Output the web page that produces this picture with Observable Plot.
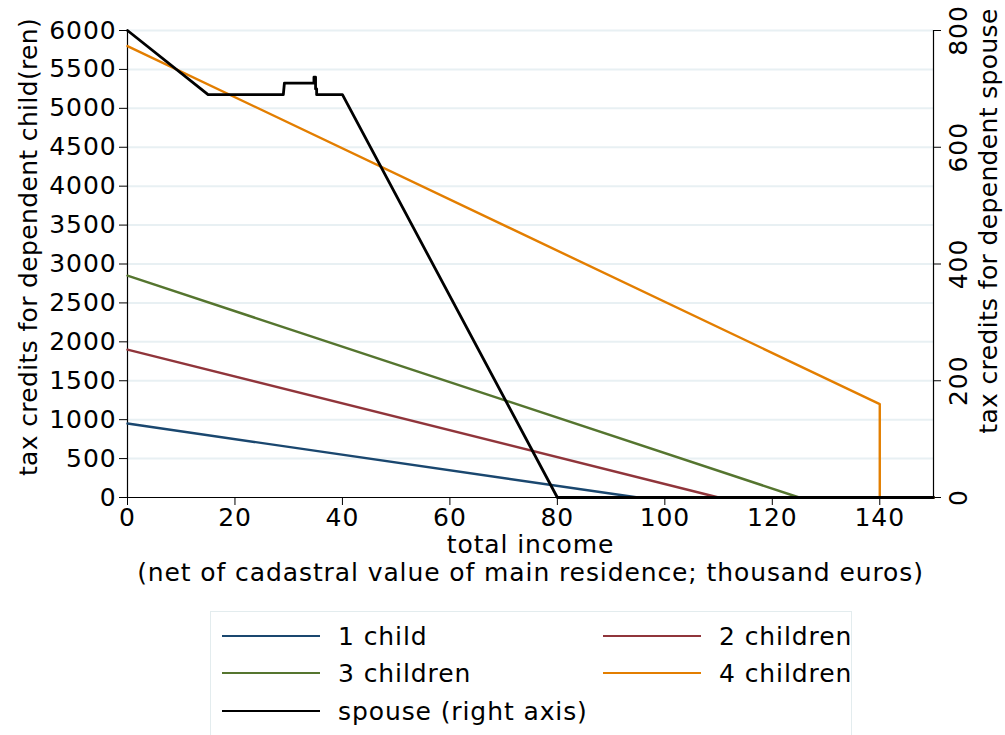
<!DOCTYPE html>
<html>
<head>
<meta charset="utf-8">
<script src="https://cdn.jsdelivr.net/npm/d3@7"></script>
<script src="https://cdn.jsdelivr.net/npm/@observablehq/plot@0.6"></script>
<style>
  body { margin: 0; background: #fff; font-family: "DejaVu Sans", sans-serif; }
  #wrap { position: relative; width: 1005px; height: 735px; overflow: hidden; }
  #wrap svg text { letter-spacing: 0.9px; }
  #wrap svg g.vlabel text { letter-spacing: 0.35px; }
  #legend { position: absolute; left: 210px; top: 611px; width: 642px; height: 140px;
    border: 1px solid #e3ecee; box-sizing: border-box; font-size: 25px; letter-spacing: 0.9px; color: #000; }
  .item { position: absolute; display: flex; align-items: center; height: 30px; white-space: nowrap; }
  .swatch { width: 98px; height: 0; border-top: 2px solid; margin-right: 18px; }
</style>
</head>
<body>
<div id="wrap"></div>
<script>
// ---- data (income in thousand euros, credits in euros) ----
const income1 = [0, 95, 150];
const credit1 = [950, 0, 0];
const income2 = [0, 110, 150];
const credit2 = [1900, 0, 0];
const income3 = [0, 125, 150];
const credit3 = [2850, 0, 0];
const income4 = [0, 140, 140, 150];
const credit4 = [5800, 1200, 0, 0];
const spouseIncome = [0, 15, 29, 29.2, 34.7, 34.7, 35, 35, 35.2, 35.2, 40, 80, 150];
const spouseCredit = [800, 690, 690, 710, 710, 720, 720, 700, 700, 690, 690, 0, 0];

const xTicks = [0, 20, 40, 60, 80, 100, 120, 140];
const yTicks = [0, 500, 1000, 1500, 2000, 2500, 3000, 3500, 4000, 4500, 5000, 5500, 6000];
const rightTicks = [0, 200, 400, 600, 800];

const seriesNames = ["1 child", "2 children", "3 children", "4 children", "spouse (right axis)"];
const seriesColors = ["#1a476f", "#90353b", "#55752f", "#e37e00", "#000000"];

const ratio = 6000 / 800; // right axis mapped onto left scale

const toPts = (xs, ys, k = 1) => xs.map((x, i) => ({x, y: ys[i] * k}));
const s1 = toPts(income1, credit1);
const s2 = toPts(income2, credit2);
const s3 = toPts(income3, credit3);
const s4 = toPts(income4, credit4);
const sp = toPts(spouseIncome, spouseCredit, ratio);

const font = 25;
const chart = Plot.plot({
  width: 1005,
  height: 600,
  marginLeft: 127,
  marginRight: 72,
  marginTop: 30,
  marginBottom: 103,
  style: { fontFamily: "DejaVu Sans", fontSize: font + "px", color: "#000", background: "#fff" },
  x: { type: "linear", domain: [0, 150] },
  y: { type: "linear", domain: [0, 6000] },
  marks: [
    Plot.gridY(yTicks.filter(d => d > 0), { stroke: "#e8f0f3", strokeOpacity: 1, strokeWidth: 2 }),
    Plot.axisX(xTicks, { tickSize: 8, tickPadding: 3, fontSize: font, label: null, tickFormat: d => String(d) }),
    Plot.axisY(yTicks, { tickSize: 8, tickPadding: 3, fontSize: font, label: null, tickFormat: d => String(d) }),
    Plot.ruleY(rightTicks.map(d => d * ratio), { x1: 150, x2: 150, insetRight: -8, stroke: "#000", strokeWidth: 1 }),
    Plot.text(rightTicks, { x: 150, y: d => d * ratio, text: d => String(d), dx: 25, rotate: -90, fontSize: font, textAnchor: "middle" }),
    Plot.ruleX([0, 150], { stroke: "#000", strokeWidth: 1.2 }),
    Plot.ruleY([0], { stroke: "#000", strokeWidth: 1.2 }),
    Plot.line(s1, { x: "x", y: "y", stroke: seriesColors[0], strokeWidth: 2.4 }),
    Plot.line(s2, { x: "x", y: "y", stroke: seriesColors[1], strokeWidth: 2.4 }),
    Plot.line(s3, { x: "x", y: "y", stroke: seriesColors[2], strokeWidth: 2.4 }),
    Plot.line(s4, { x: "x", y: "y", stroke: seriesColors[3], strokeWidth: 2.4 }),
    Plot.line(sp, { x: "x", y: "y", stroke: seriesColors[4], strokeWidth: 2.8 }),
    Plot.text(["total income"], { frameAnchor: "bottom", dy: 55, fontSize: font, textAnchor: "middle" }),
    Plot.text(["(net of cadastral value of main residence; thousand euros)"], { frameAnchor: "bottom", dy: 83, fontSize: font, textAnchor: "middle" }),
    Plot.text(["tax credits for dependent child(ren)"], { frameAnchor: "left", dx: -99, dy: -17, rotate: -90, fontSize: font, textAnchor: "middle", className: "vlabel" }),
    Plot.text(["tax credits for dependent spouse"], { frameAnchor: "right", dx: 55, dy: -43, rotate: -90, fontSize: font, textAnchor: "middle", className: "vlabel" })
  ]
});
document.getElementById("wrap").appendChild(chart);

const legend = document.createElement("div");
legend.id = "legend";
const positions = [[11, 25], [392, 25], [11, 62], [392, 62], [11, 100]];
seriesNames.forEach((n, i) => {
  const it = document.createElement("div");
  it.className = "item";
  it.style.left = positions[i][0] + "px";
  it.style.top = (positions[i][1] - 16) + "px";
  const sw = document.createElement("div");
  sw.className = "swatch";
  sw.style.borderTopColor = seriesColors[i];
  const tx = document.createElement("span");
  tx.textContent = n;
  it.appendChild(sw); it.appendChild(tx);
  legend.appendChild(it);
});
document.getElementById("wrap").appendChild(legend);
</script>
</body>
</html>
